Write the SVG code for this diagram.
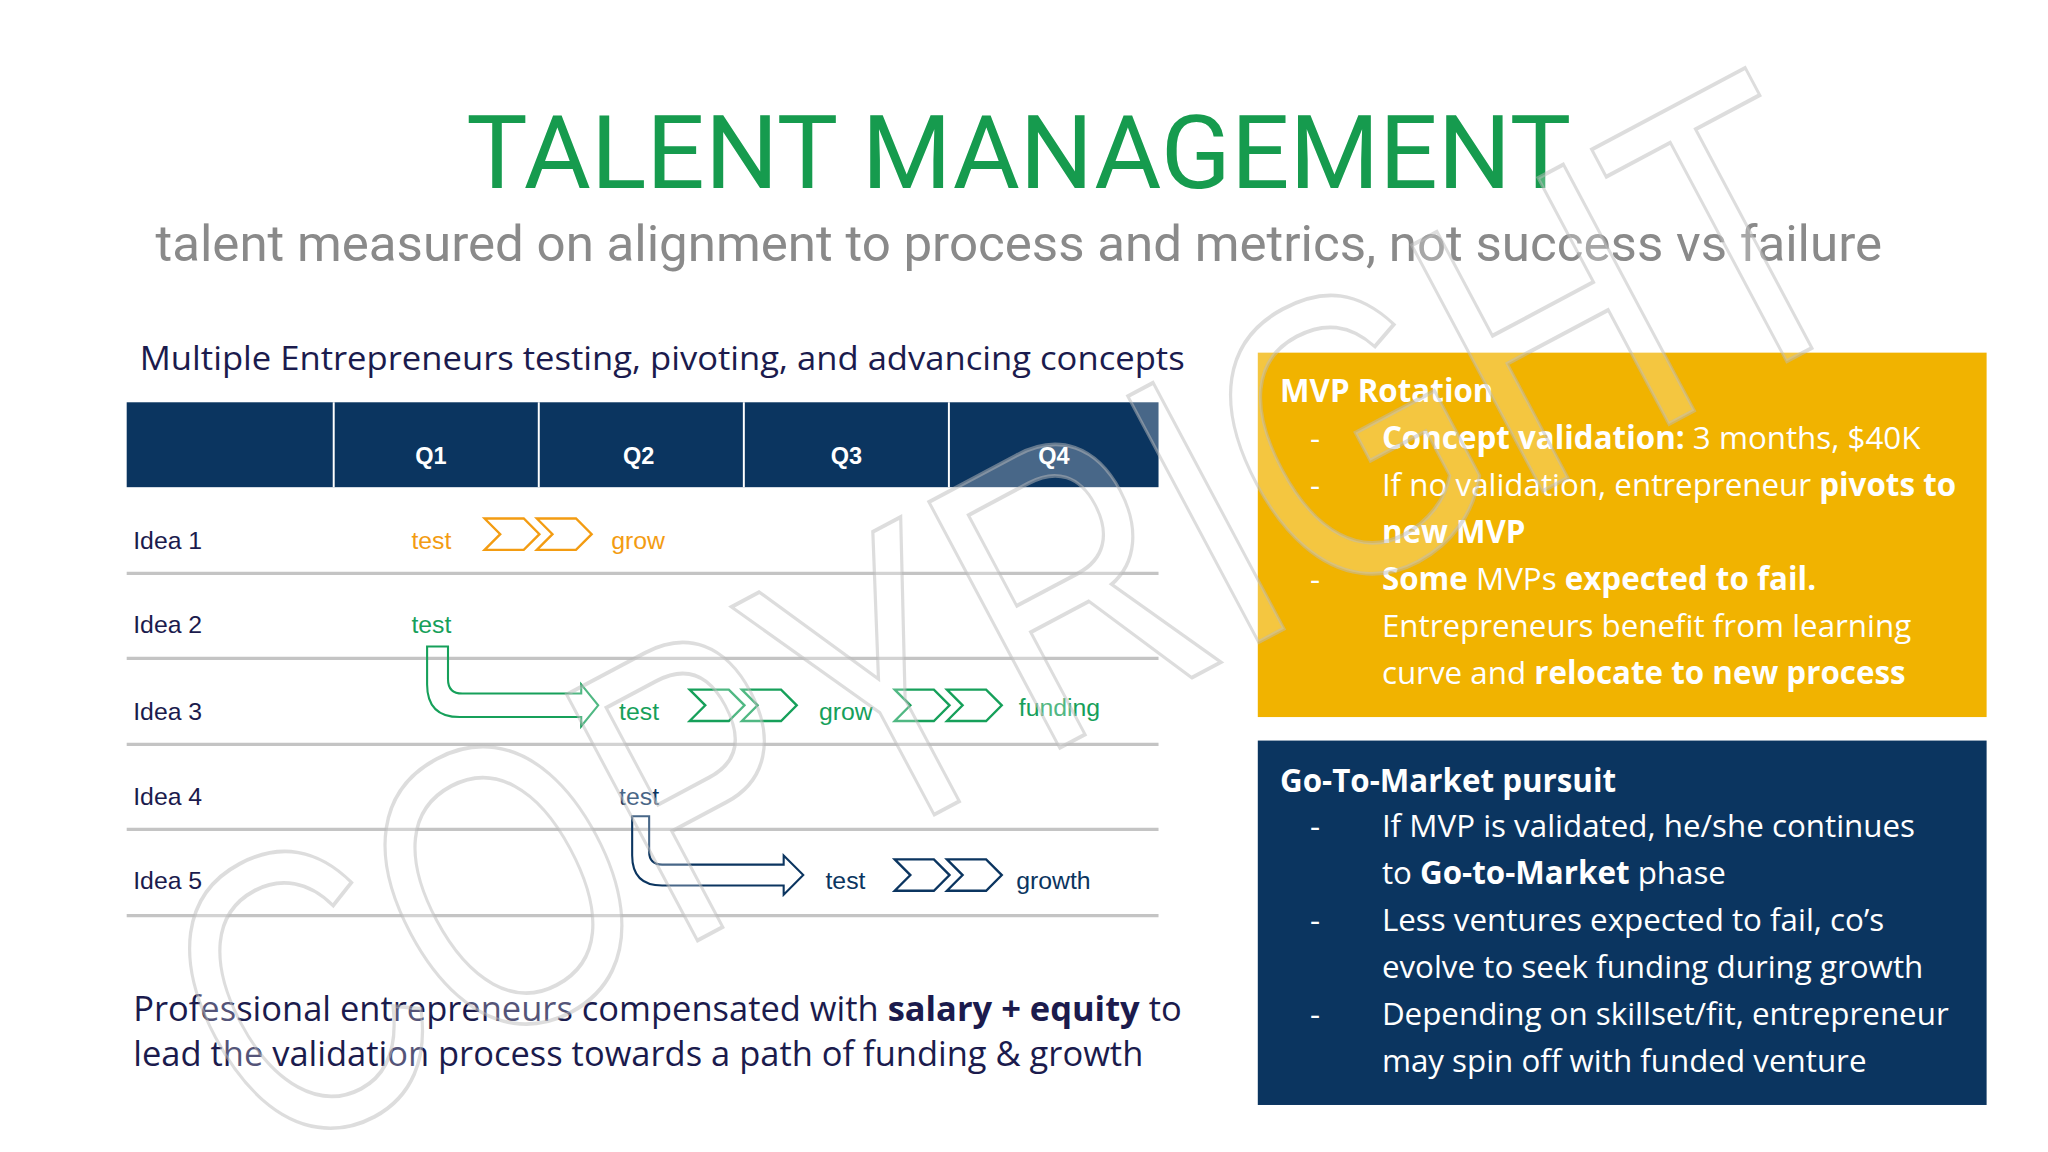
<svg xmlns="http://www.w3.org/2000/svg" width="2048" height="1152" viewBox="0 0 2048 1152">
<style>
.t{font-family:"Open Sans",Lato,sans-serif}
.a{font-family:"Liberation Sans",Arial,sans-serif;font-size:19px}
.b{font-weight:bold}
.w{fill:#fff;font-size:24px}
.row{stroke:#c4c4c4;stroke-width:2.5}
.q{fill:#fff;font-weight:bold;text-anchor:middle;font-size:18px}
</style>
<defs>
<path id="chev" d="M0,0 H30 L42,12 L30,24 H0 L12,12 Z M40,0 H70 L82,12 L70,24 H40 L52,12 Z" fill="none" stroke-width="1.8" stroke-linejoin="miter"/>
</defs>
<rect width="2048" height="1152" fill="#fff"/>
<g transform="scale(1.30612)">
<g id="title">
<text x="780" y="144" text-anchor="middle" font-family="Roboto,sans-serif" font-size="78" fill="#169B4E" textLength="846" lengthAdjust="spacingAndGlyphs">TALENT MANAGEMENT</text>
<text x="780" y="200" text-anchor="middle" font-family="Roboto,sans-serif" font-size="38" fill="#8a8a8a" textLength="1322" lengthAdjust="spacingAndGlyphs">talent measured on alignment to process and metrics, not success vs failure</text>
</g>
<text class="t" x="107" y="283" font-size="25" fill="#1b1b4d" textLength="800" lengthAdjust="spacingAndGlyphs">Multiple Entrepreneurs testing, pivoting, and advancing concepts</text>
<g id="table">
<rect x="97" y="308" width="790" height="65" fill="#0B3560"/>
<path d="M255.5,308V373M412.5,308V373M569.5,308V373M726.5,308V373" stroke="#fff" stroke-width="1.5"/>
<text class="a q" x="330" y="355">Q1</text><text class="a q" x="489" y="355">Q2</text><text class="a q" x="648" y="355">Q3</text><text class="a q" x="807" y="355">Q4</text>
<path class="row" d="M97,439H887M97,504H887M97,570H887M97,635H887M97,701H887"/>
<g fill="#1b1b4d" class="a"><text x="102" y="420">Idea 1</text><text x="102" y="485">Idea 2</text><text x="102" y="551">Idea 3</text><text x="102" y="616">Idea 4</text><text x="102" y="681">Idea 5</text></g>
</g>
<g id="idea1" class="a" fill="#F39C12">
<text x="315" y="420">test</text>
<use href="#chev" x="371" y="397" stroke="#F39C12"/>
<text x="468" y="420">grow</text>
</g>
<g id="idea2" class="a" fill="#16A05A"><text x="315" y="485">test</text></g>
<g id="connectors">
<path d="M327,495 H343 V520 Q343,531 354,531 H445 V524 L458,540 L445,556 V549 H352 Q327,549 327,524 Z" fill="none" stroke="#16A05A" stroke-width="1.6"/>
<path d="M484,625 H497 V652 Q497,662 507,662 H600 V655 L615,670 L600,685 V678 H507 Q484,678 484,655 Z" fill="none" stroke="#0B3560" stroke-width="1.6"/>
</g>
<g id="idea3" class="a" fill="#16A05A">
<text x="474" y="551">test</text>
<use href="#chev" x="528" y="528" stroke="#16A05A"/>
<text x="627" y="551">grow</text>
<use href="#chev" x="685" y="528" stroke="#16A05A"/>
<text x="780" y="548">funding</text>
</g>
<g id="idea4" class="a" fill="#0B3560"><text x="474" y="616">test</text></g>
<g id="idea5" class="a" fill="#0B3560">
<text x="632" y="681">test</text>
<use href="#chev" x="685" y="658" stroke="#0B3560"/>
<text x="778" y="681">growth</text>
</g>
<g id="bottom" class="t" font-size="26.4" fill="#1b1b4d">
<text x="102" y="782">Professional entrepreneurs compensated with <tspan class="b">salary + equity</tspan> to</text>
<text x="102" y="816">lead the validation process towards a path of funding &amp; growth</text>
</g>
<g id="mvp" class="t">
<rect x="963" y="270" width="558" height="279" fill="#F1B300"/>
<text class="w b" x="980" y="308">MVP Rotation</text>
<g class="w"><text x="1003" y="344">-</text><text x="1003" y="380">-</text><text x="1003" y="452">-</text></g>
<text class="w" x="1058" y="344"><tspan class="b">Concept validation:</tspan> 3 months, $40K</text>
<text class="w" x="1058" y="380">If no validation, entrepreneur <tspan class="b">pivots to</tspan></text>
<text class="w b" x="1058" y="416">new MVP</text>
<text class="w" x="1058" y="452"><tspan class="b">Some</tspan> MVPs <tspan class="b">expected to fail.</tspan></text>
<text class="w" x="1058" y="488">Entrepreneurs benefit from learning</text>
<text class="w" x="1058" y="524">curve and <tspan class="b">relocate to new process</tspan></text>
</g>
<g id="gtm" class="t">
<rect x="963" y="567" width="558" height="279" fill="#0B3560"/>
<text class="w b" x="980" y="606">Go-To-Market pursuit</text>
<g class="w"><text x="1003" y="641">-</text><text x="1003" y="713">-</text><text x="1003" y="785">-</text></g>
<text class="w" x="1058" y="641">If MVP is validated, he/she continues</text>
<text class="w" x="1058" y="677">to <tspan class="b">Go-to-Market</tspan> phase</text>
<text class="w" x="1058" y="713">Less ventures expected to fail, co’s</text>
<text class="w" x="1058" y="749">evolve to seek funding during growth</text>
<text class="w" x="1058" y="785">Depending on skillset/fit, entrepreneur</text>
<text class="w" x="1058" y="821">may spin off with funded venture</text>
</g>
<text id="watermark" x="205" y="895" transform="rotate(-28 205 895)" font-family="Liberation Sans,sans-serif" font-size="310" fill="#fff" fill-opacity="0.25" stroke="#bbb" stroke-opacity="0.5" stroke-width="3" textLength="1400" lengthAdjust="spacingAndGlyphs">COPYRIGHT</text>
</g>
</svg>
